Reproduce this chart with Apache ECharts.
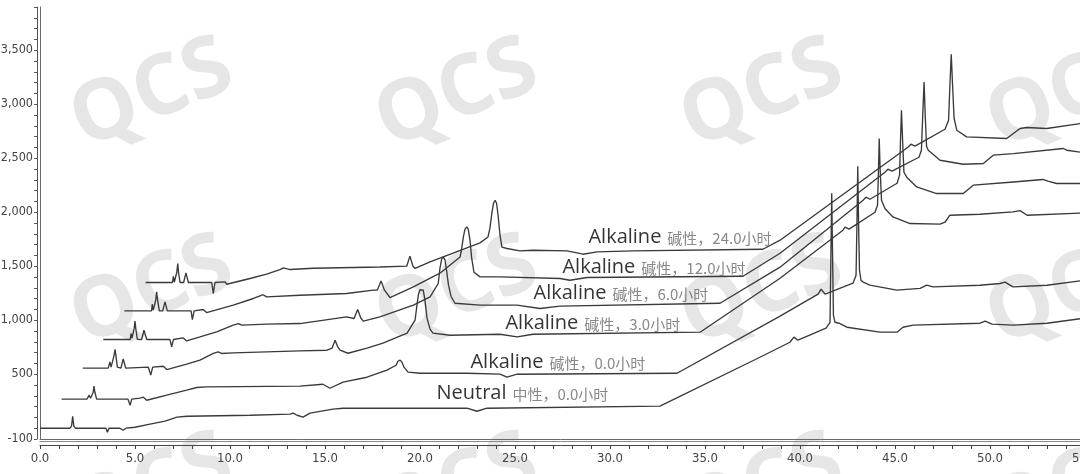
<!DOCTYPE html>
<html>
<head>
<meta charset="utf-8">
<script src="https://cdn.jsdelivr.net/npm/echarts@6/dist/echarts.min.js"></script>
<style>
html,body{margin:0;padding:0;background:#fff;}
#chart{width:1080px;height:474px;}
</style>
</head>
<body>
<div id="chart"></div>
<script>
// Retention time (min) / signal pairs, one array per trace
const neutral = [[0,0],[1.58,0],[1.66,19],[1.72,111],[1.78,19],[1.87,0],[3.47,0],[3.55,-37],[3.63,0],[4.21,0],[4.37,-19],[4.53,0],[5.0,9],[5.79,37],[6.58,65],[7.21,102],[7.74,111],[11.05,120],[13.16,130],[13.32,139],[13.53,120],[13.84,102],[14.21,139],[15.42,176],[15.95,185],[22.47,185],[23.0,157],[23.53,185],[32.63,204],[37.89,657],[39.47,796],[39.68,843],[39.89,815],[41.37,926],[41.58,981],[41.63,1648],[41.67,2176],[41.71,1648],[41.76,1046],[41.84,981],[42.05,972],[42.47,935],[44.21,889],[45.11,889],[45.42,935],[45.95,954],[49.47,972],[49.74,991],[50.11,963],[51.21,954],[53.0,972],[55.0,1020]];
const alkaline0h = [[1.14,269],[2.47,269],[2.53,287],[2.59,306],[2.66,278],[2.75,269],[2.8,333],[2.84,389],[2.89,333],[2.98,269],[4.63,269],[4.74,213],[4.83,269],[5.26,278],[5.44,287],[5.62,259],[6.67,306],[7.72,352],[8.25,377],[8.77,383],[13.68,389],[14.89,407],[15.26,370],[15.95,426],[17.21,472],[18.26,537],[18.74,583],[18.84,620],[18.95,630],[19.05,611],[19.16,565],[19.37,519],[20.0,509],[22.47,509],[24.21,500],[24.58,472],[25.11,500],[33.53,509],[38.95,1037],[40.95,1241],[41.11,1287],[41.32,1241],[42.79,1343],[42.95,1417],[43.0,1926],[43.04,2426],[43.08,1926],[43.13,1463],[43.21,1370],[43.33,1352],[43.68,1324],[45.09,1278],[46.32,1294],[46.67,1324],[47.0,1308],[49.47,1324],[50.53,1340],[50.79,1352],[51.21,1308],[53.0,1324],[55.0,1370]];
const alkaline3h = [[2.25,556],[3.59,556],[3.65,556],[3.68,614],[3.74,565],[3.83,565],[3.89,667],[3.95,729],[4.0,667],[4.07,565],[4.13,556],[4.26,556],[4.38,642],[4.51,556],[5.7,565],[5.83,491],[5.93,565],[6.49,574],[6.67,543],[7.72,593],[8.42,630],[9.12,692],[9.38,706],[9.56,692],[10.17,697],[13.68,716],[15.11,722],[15.37,741],[15.53,815],[15.68,750],[15.79,722],[16.21,694],[17.21,741],[18.05,787],[19.32,880],[19.74,1000],[19.82,1111],[19.92,1241],[20.0,1282],[20.09,1294],[20.17,1278],[20.26,1185],[20.37,1019],[20.53,917],[20.68,880],[21.58,861],[24.21,870],[25.11,845],[25.95,870],[34.74,889],[38.95,1389],[42.26,1833],[42.37,1861],[42.58,1843],[43.95,2000],[44.08,2065],[44.13,2389],[44.17,2682],[44.22,2389],[44.29,2111],[44.47,2034],[44.89,1956],[45.79,1895],[47.37,1889],[47.63,1907],[47.89,1972],[49.47,1981],[51.21,2003],[51.58,2014],[51.95,1972],[55.0,1993]];
const alkaline6h = [[3.33,821],[4.75,821],[4.79,877],[4.84,833],[4.92,833],[4.96,926],[5.0,991],[5.04,926],[5.12,824],[5.21,821],[5.35,821],[5.47,907],[5.62,821],[6.84,821],[6.93,753],[7.02,821],[7.54,836],[7.72,808],[8.42,845],[9.3,892],[10.17,954],[10.44,969],[10.62,954],[11.93,963],[13.68,969],[16.14,1031],[16.53,1016],[16.72,1099],[16.89,1018],[17.02,991],[17.89,1031],[19.65,1139],[20.53,1216],[20.96,1340],[21.05,1481],[21.14,1565],[21.23,1586],[21.32,1555],[21.41,1444],[21.5,1324],[21.63,1222],[21.84,1157],[23.16,1139],[25.11,1139],[26.32,1108],[27.37,1130],[35.79,1157],[38.95,1491],[43.32,2111],[43.47,2139],[43.68,2120],[45.11,2268],[45.24,2343],[45.29,2667],[45.34,2944],[45.4,2667],[45.47,2370],[45.62,2324],[46.14,2234],[47.19,2173],[48.59,2173],[49.12,2250],[51.23,2280],[52.79,2303],[53.05,2287],[53.51,2266],[55.0,2266]];
const alkaline12h = [[4.44,1086],[5.87,1086],[5.91,1148],[5.96,1093],[6.03,1093],[6.09,1185],[6.14,1262],[6.19,1185],[6.28,1086],[6.46,1086],[6.58,1169],[6.7,1086],[7.95,1086],[8.02,1006],[8.11,1086],[8.59,1099],[8.77,1071],[10.17,1139],[11.23,1201],[11.58,1225],[11.74,1236],[11.93,1216],[13.68,1231],[16.14,1247],[17.54,1278],[17.75,1278],[17.95,1364],[18.13,1278],[18.42,1210],[19.65,1308],[21.05,1435],[22.11,1586],[22.18,1648],[22.29,1778],[22.37,1843],[22.46,1864],[22.54,1843],[22.63,1741],[22.72,1574],[22.84,1444],[23.16,1401],[24.21,1401],[27.37,1386],[27.89,1370],[28.79,1395],[37.0,1407],[38.95,1620],[44.47,2370],[44.63,2398],[44.84,2380],[46.26,2509],[46.39,2574],[46.46,2898],[46.53,3206],[46.59,2898],[46.66,2611],[46.75,2574],[47.37,2481],[48.59,2444],[49.65,2451],[50.17,2528],[51.23,2543],[53.86,2590],[54.04,2574],[55.0,2549]];
const alkaline24h = [[5.56,1349],[6.97,1349],[7.02,1407],[7.07,1352],[7.14,1352],[7.2,1444],[7.25,1525],[7.29,1444],[7.37,1349],[7.56,1349],[7.68,1438],[7.81,1349],[9.04,1349],[9.12,1247],[9.21,1349],[9.74,1355],[9.83,1333],[11.05,1386],[11.93,1426],[12.63,1469],[12.81,1484],[13.16,1469],[14.37,1481],[17.89,1493],[19.3,1500],[19.47,1593],[19.63,1500],[19.74,1479],[20.53,1540],[21.74,1620],[23.16,1716],[23.58,1771],[23.68,1852],[23.79,2000],[23.87,2083],[23.95,2111],[24.03,2083],[24.11,1972],[24.21,1787],[24.31,1676],[24.58,1664],[25.26,1642],[25.95,1648],[27.74,1642],[28.58,1611],[29.32,1632],[31.21,1642],[38.05,1657],[38.95,1741],[45.68,2602],[45.84,2630],[46.05,2611],[47.63,2768],[47.82,2852],[47.89,3176],[47.96,3463],[48.03,3176],[48.11,2870],[48.25,2759],[48.77,2697],[50.88,2682],[51.58,2775],[51.93,2784],[52.98,2775],[55.0,2827]];

// Trace annotations
const labelNames = ['Neutral','Alkaline','Alkaline','Alkaline','Alkaline','Alkaline'];
const labelNotes = ['中性，0.0小时','碱性，0.0小时','碱性，3.0小时','碱性，6.0小时','碱性，12.0小时','碱性，24.0小时'];
const labelTimes = [20.84, 22.63, 24.47, 25.95, 27.47, 28.84];
const labelLevels = [324, 611, 972, 1250, 1491, 1768];

// Tick labels
const xTickLabels = [0,5,10,15,20,25,30,35,40,45,50,55];
const yTickLabels = [-100,500,1000,1500,2000,2500,3000,3500];

const traces = [neutral, alkaline0h, alkaline3h, alkaline6h, alkaline12h, alkaline24h];

const chart = echarts.init(document.getElementById('chart'), null, {renderer:'canvas'});

const axisFont = '"DejaVu Sans Condensed","Liberation Sans Narrow",sans-serif';

const lineSeries = traces.map((d, i) => ({
  type: 'line',
  name: labelNames[i] + ' ' + labelNotes[i],
  data: d,
  showSymbol: false,
  symbol: 'none',
  smooth: false,
  z: 3,
  lineStyle: {color: '#3a3a3a', width: 1.35},
  emphasis: {disabled: true}
}));

const labelSeries = {
  type: 'scatter',
  data: labelTimes.map((t, i) => ({value: [t, labelLevels[i]], name: labelNames[i]})),
  symbolSize: 1,
  itemStyle: {color: 'rgba(0,0,0,0)'},
  z: 4,
  silent: true,
  label: {
    show: true,
    position: 'right',
    distance: 0,
    formatter: p => '{en|' + labelNames[p.dataIndex] + '}{zh|' + labelNotes[p.dataIndex] + '}',
    rich: {
      en: {fontFamily: '"Open Sans","Noto Sans",sans-serif', fontSize: 20, color: '#000'},
      zh: {fontFamily: '"Noto Sans CJK SC",sans-serif', fontSize: 15, color: '#6a6a6a', padding: [2,0,0,6]}
    }
  }
};

const wmPos = [];
[152, 457, 762, 1068].forEach(x => [95, 292, 490].forEach(y => wmPos.push([x, y])));
const graphics = wmPos.map(p => ({
  type: 'text',
  x: p[0], y: p[1],
  rotation: 22 * Math.PI / 180,
  z: -10,
  silent: true,
  style: {text: 'QCS', fontSize: 84, fontWeight: 'bold', fontFamily: '"Open Sans",sans-serif', fill: '#e6e6e6', align: 'center', verticalAlign: 'middle'}
}));

const baseAxis = {type: 'value', splitLine: {show: false}};

chart.setOption({
  backgroundColor: '#fff',
  animation: false,
  graphic: graphics,
  grid: {left: 40, top: 7, width: 1045, height: 432, containLabel: false, outerBoundsMode: 'none'},
  xAxis: [
    Object.assign({}, baseAxis, {min: 0, max: 55, position: 'bottom', offset: 0,
      axisLine: {show: true, onZero: false, lineStyle: {color: '#6a6a6a', width: 1}},
      axisTick: {show: false}, axisLabel: {show: false}}),
    Object.assign({}, baseAxis, {min: 0, max: 55, position: 'bottom', offset: 2,
      axisLine: {show: true, onZero: false, lineStyle: {color: '#8a8a8a', width: 1}},
      axisTick: {show: false}, axisLabel: {show: false}}),
    Object.assign({}, baseAxis, {min: 0, max: 55, interval: 1, position: 'bottom', offset: 6,
      axisLine: {show: true, onZero: false, lineStyle: {color: '#444', width: 1}},
      axisTick: {show: true, length: 4, lineStyle: {color: '#444'}},
      axisLabel: {show: true, margin: 7, color: '#444', fontSize: 13, fontFamily: axisFont,
        formatter: v => xTickLabels.includes(Math.round(v * 10) / 10) ? Number(v).toFixed(1) : ''}})
  ],
  yAxis: [
    Object.assign({}, baseAxis, {min: -100, max: 3900, interval: 100, position: 'left', offset: 0,
      axisLine: {show: true, onZero: false, lineStyle: {color: '#6a6a6a', width: 1}},
      axisTick: {show: false}, axisLabel: {show: false}}),
    Object.assign({}, baseAxis, {min: -100, max: 3900, interval: 100, position: 'left', offset: 3,
      axisLine: {show: true, onZero: false, lineStyle: {color: '#555', width: 1}},
      axisTick: {show: true, length: 3, lineStyle: {color: '#555'}},
      axisLabel: {show: true, margin: 4, color: '#444', fontSize: 12.5, fontFamily: axisFont,
        formatter: v => yTickLabels.includes(Math.round(v)) ? Math.round(v).toLocaleString('en-US') : ''}})
  ],
  series: lineSeries.concat([labelSeries])
});
</script>
</body>
</html>
